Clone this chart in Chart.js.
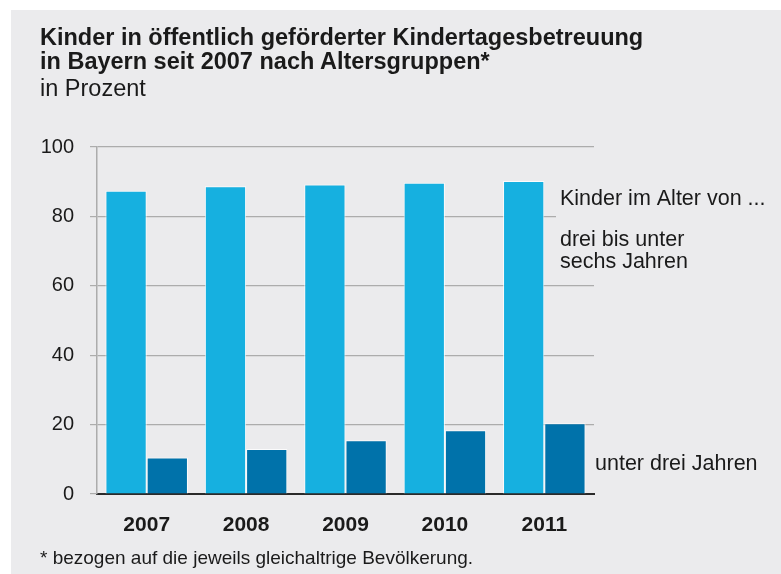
<!DOCTYPE html>
<html lang="de">
<head>
<meta charset="UTF-8" />
<title>Kindertagesbetreuung Bayern</title>
<script src="https://cdn.jsdelivr.net/npm/chart.js"></script>
<style>
  body { margin: 0; background: #fff; font-family: "Liberation Sans", Arial, sans-serif; }
  #panel { position: absolute; left: 11px; top: 10px; width: 770px; height: 564px; background: #ebebed; }
  #wrap { position: absolute; left: 0; top: 0; width: 781px; height: 574px; }
  .t { position: absolute; left: 40px; color: #1a1a1a; white-space: nowrap; }
  #t1 { top: 25px; font-weight: bold; font-size: 23.5px; line-height: 24px; }
  #t2 { top: 76px; font-size: 23.5px; line-height: 24px; }
  #foot { top: 547px; font-size: 19px; line-height: 22px; }
</style>
</head>
<body>
<div id="panel"></div>
<div id="wrap"><canvas id="chart" width="781" height="574"></canvas></div>
<div class="t" id="t1">Kinder in öffentlich geförderter Kindertagesbetreuung<br>in Bayern seit 2007 nach Altersgruppen*</div>
<div class="t" id="t2">in Prozent</div>
<div class="t" id="foot">* bezogen auf die jeweils gleichaltrige Bevölkerung.</div>
<script>
  const years = ['2007', '2008', '2009', '2010', '2011'];
  const dreiBisSechs = [87.4, 88.7, 89.2, 89.7, 90.2];
  const unterDrei = [10.5, 13.0, 15.5, 18.4, 20.4];
  const yTicks = [0, 20, 40, 60, 80, 100];

  const panelColor = '#ebebed';

  // Beschriftungen rechts neben dem Diagramm
  const sideLabels = {
    id: 'sideLabels',
    afterDraw(chart) {
      const c = chart.ctx;
      const x = chart.chartArea.right;
      c.save();
      c.fillStyle = panelColor;
      c.fillRect(x - 38, 212, 50, 10);
      c.fillStyle = '#1a1a1a';
      c.textBaseline = 'alphabetic';
      c.font = '21.5px "Liberation Sans", Arial, sans-serif';
      c.fillText('Kinder im Alter von ...', x - 34, 205);
      c.fillText('drei bis unter', x - 34, 246);
      c.fillText('sechs Jahren', x - 34, 268);
      c.fillText('unter drei Jahren', x + 1, 470);
      c.restore();
    }
  };

  new Chart(document.getElementById('chart'), {
    type: 'bar',
    data: {
      labels: years,
      datasets: [
        {
          label: 'drei bis unter sechs Jahren',
          data: dreiBisSechs,
          backgroundColor: '#16b0e0',
          borderColor: 'rgba(255,255,255,0.8)',
          borderWidth: 1
        },
        {
          label: 'unter drei Jahren',
          data: unterDrei,
          backgroundColor: '#0072aa',
          borderColor: 'rgba(255,255,255,0.8)',
          borderWidth: 1
        }
      ]
    },
    options: {
      responsive: false,
      animation: false,
      layout: { padding: { top: 147, right: 187, left: 0, bottom: 0 } },
      datasets: { bar: { categoryPercentage: 0.83, barPercentage: 1 } },
      plugins: { legend: { display: false }, tooltip: { enabled: false } },
      scales: {
        x: {
          grid: { display: false, drawTicks: false },
          border: { color: '#2a2a2a', width: 2 },
          ticks: {
            color: '#1a1a1a',
            padding: 19,
            font: { family: '"Liberation Sans", Arial, sans-serif', size: 21, weight: 'bold' }
          },
          afterFit(scale) { scale.height = 80; }
        },
        y: {
          min: 0,
          max: 100,
          afterBuildTicks(scale) { scale.ticks = yTicks.map(v => ({ value: v })); },
          grid: { color: '#acacac', lineWidth: 1.2, tickLength: 7 },
          border: { color: '#acacac', width: 1.5 },
          ticks: {
            color: '#1a1a1a',
            padding: 16,
            font: { family: '"Liberation Sans", Arial, sans-serif', size: 20 }
          },
          afterFit(scale) { scale.width = 97; }
        }
      }
    },
    plugins: [sideLabels]
  });
</script>
</body>
</html>
